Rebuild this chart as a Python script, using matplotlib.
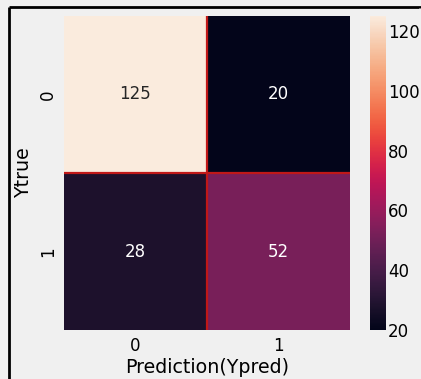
import matplotlib
matplotlib.use("Agg")
import matplotlib.pyplot as plt
import seaborn as sns
import numpy as np
from matplotlib.lines import Line2D

plt.style.use("fivethirtyeight")

# Confusion matrix values
true_labels = ["0", "1"]
pred_labels = ["0", "1"]
row_0 = [125, 20]
row_1 = [28, 52]
cbar_ticks = [20, 40, 60, 80, 100, 120]

matrix = np.array([row_0, row_1])

fig = plt.figure(figsize=(4.21, 3.79), dpi=100, facecolor="#f0f0f0",
                 edgecolor="#f0f0f0")
ax = fig.add_axes([0.152, 0.129, 0.679, 0.829])
cax = fig.add_axes([0.878, 0.129, 0.040, 0.829])

sns.heatmap(matrix, annot=True, fmt="d", cmap="rocket", ax=ax, cbar_ax=cax,
            vmin=20, vmax=125,
            xticklabels=pred_labels, yticklabels=true_labels,
            annot_kws={"fontsize": 12})

# red separators between the cells
ax.axhline(1, color="#c01818", linewidth=1.6)
ax.axvline(1, color="#c01818", linewidth=1.6)

ax.set_xlabel("Prediction(Ypred)", fontsize=13.7, labelpad=2)
ax.set_ylabel("Ytrue", fontsize=13.7, labelpad=4)
ax.tick_params(axis="both", labelsize=12, length=0, pad=5)
ax.set_facecolor("#f0f0f0")

cax.set_yticks(cbar_ticks)
cax.tick_params(labelsize=12, length=0, pad=1)
cax.grid(False)
for s in cax.spines.values():
    s.set_visible(False)

# frame lines along the top and left edges
fig.add_artist(Line2D([0.021, 1.0], [0.982, 0.982], transform=fig.transFigure,
                      color="black", linewidth=2))
fig.add_artist(Line2D([0.021, 0.021], [0.0, 0.982], transform=fig.transFigure,
                      color="black", linewidth=2))
# keep the right edge in the background colour
fig.add_artist(Line2D([0.998, 0.998], [0.0, 0.978], transform=fig.transFigure,
                      color="#f0f0f0", linewidth=2))

fig.patch.set_linewidth(0)
fig.savefig("out.png", dpi=100, facecolor="#f0f0f0", edgecolor="none")
